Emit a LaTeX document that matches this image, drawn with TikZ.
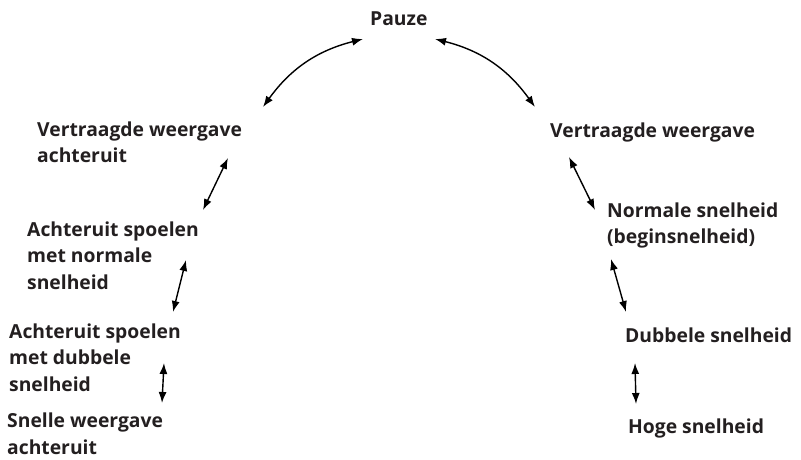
\documentclass[tikz,border=0pt]{standalone}
\usepackage{fontspec}
\setmainfont{Open Sans}
\usepackage{tikz}
\usetikzlibrary{arrows.meta}
\definecolor{labelGrey}{RGB}{35,31,32}

\begin{document}
\begin{tikzpicture}[
    x=1pt, y=1pt,
    mode/.style={anchor=base west, inner sep=0pt, align=left, text=labelGrey, font=\fontsize{19.3}{26.5}\selectfont\bfseries},
    arrow/.style={{Latex[length=11pt,width=8pt]}-{Latex[length=11pt,width=8pt]}, line width=1.4pt, black}
]
\useasboundingbox (0,0) rectangle (801,459);
% multi-line labels sit on the baseline of their last line
\node[mode] (pauze) at (370, 433) {Pauze};
\node[mode] (vtrl) at (37, 296.5) {Vertraagde weergave\\ achteruit};
\node[mode] (vtrr) at (550, 322) {Vertraagde weergave};
\node[mode] (asn) at (27, 170) {Achteruit spoelen\\ met normale\\ snelheid};
\node[mode] (norm) at (607, 215.5) {Normale snelheid\\ (beginsnelheid)};
\node[mode] (asd) at (9, 68) {Achteruit spoelen\\ met dubbele\\ snelheid};
\node[mode] (dub) at (625, 117) {Dubbele snelheid};
\node[mode] (swa) at (7, 5) {Snelle weergave\\ achteruit};
\node[mode] (hoog) at (628, 26) {Hoge snelheid};
\draw[arrow] ([shift={(-7,-13)}]pauze.base west) to[bend right=20] ([shift={(226,55.5)}]vtrl.base west);
\draw[arrow] ([shift={(65,-13)}]pauze.base west) to[bend left=20] ([shift={(-15,30)}]vtrr.base west);
\draw[arrow] ([shift={(191,4.5)}]vtrl.base west) -- ([shift={(176,79)}]asn.base west);
\draw[arrow] ([shift={(159,29)}]asn.base west) -- ([shift={(164,79)}]asd.base west);
\draw[arrow] ([shift={(155,28)}]asd.base west) -- ([shift={(155,51)}]swa.base west);
\draw[arrow] ([shift={(19,-20)}]vtrr.base west) -- ([shift={(-12,33.5)}]norm.base west);
\draw[arrow] ([shift={(4,-15.5)}]norm.base west) -- ([shift={(1,30)}]dub.base west);
\draw[arrow] ([shift={(10,-21)}]dub.base west) -- ([shift={(8,29)}]hoog.base west);
\end{tikzpicture}
\end{document}
